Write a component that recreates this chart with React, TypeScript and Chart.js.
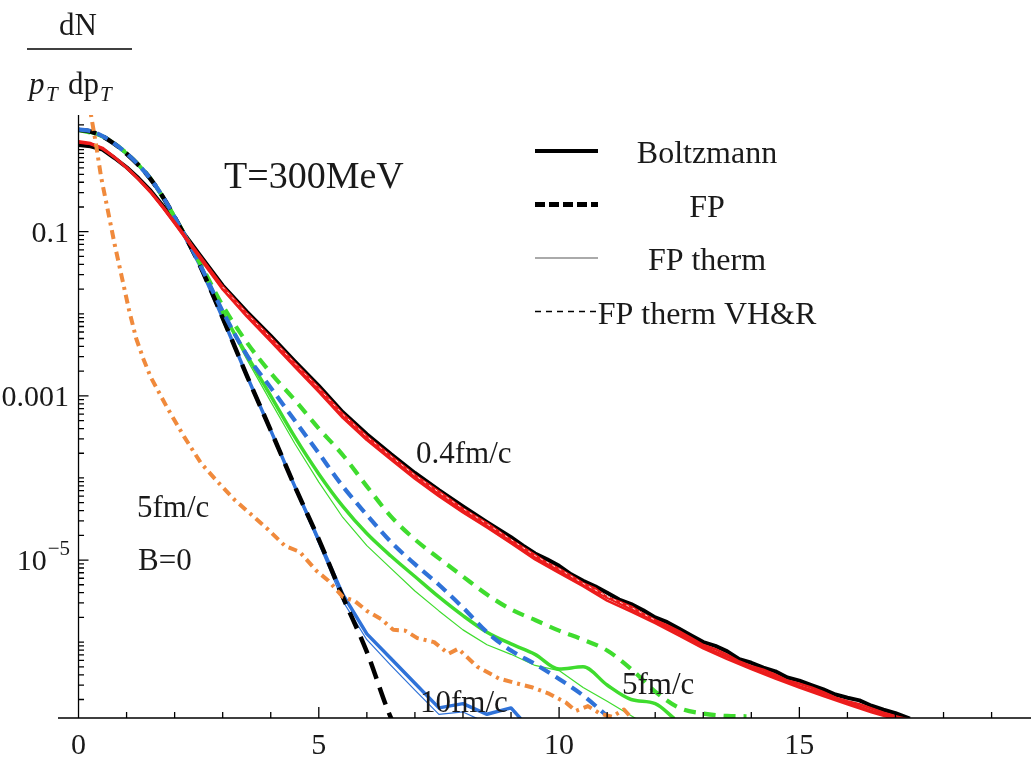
import React, { useEffect, useRef } from 'react';
import { Chart, registerables } from 'chart.js';

Chart.register(...registerables);

// ---------- axis ranges & ticks ----------
const X_MIN = -0.427;
const X_MAX = 19.82;
const Y_MIN = 1.19e-7;
const Y_MAX = 2.64;
const xTickVals = [0, 5, 10, 15];
const xTickLabels = ['0', '5', '10', '15'];
const yTickVals = [0.1, 0.001, 1e-5];
const yTickLabels = ['0.1', '0.001', '10^−5'];

// ---------- data ----------
// Boltzmann, 0.4 fm/c (black solid)
const xBoltz04 = [0, 0.25, 0.5, 0.75, 1, 1.25, 1.5, 1.75, 2, 2.5, 3, 3.5, 4, 4.5, 5, 5.5, 6, 6.5, 7, 7.5, 8, 8.5, 9, 9.25, 9.5, 9.75, 10, 10.25, 10.5, 10.75, 11, 11.25, 11.5, 11.75, 12, 12.25, 12.5, 12.75, 13, 13.25, 13.5, 13.75, 14, 14.25, 14.5, 14.75, 15, 15.25, 15.5, 15.75, 16, 16.25, 16.5, 16.75, 17, 17.3];
const yBoltz04 = [1.14, 1.10, 1.0, 0.79, 0.61, 0.447, 0.316, 0.209, 0.135, 0.0543, 0.0221, 0.0106, 5.37e-3, 2.63e-3, 1.32e-3, 6.3e-4, 3.4e-4, 1.95e-4, 1.15e-4, 7.1e-5, 4.5e-5, 2.9e-5, 1.9e-5, 1.5e-5, 1.2e-5, 1.02e-5, 8.5e-6, 6.7e-6, 5.6e-6, 4.8e-6, 4.0e-6, 3.3e-6, 2.9e-6, 2.45e-6, 2.0e-6, 1.75e-6, 1.45e-6, 1.2e-6, 1.0e-6, 9.0e-7, 7.7e-7, 6.2e-7, 5.6e-7, 4.9e-7, 4.4e-7, 3.7e-7, 3.4e-7, 3.0e-7, 2.65e-7, 2.3e-7, 2.1e-7, 1.95e-7, 1.68e-7, 1.5e-7, 1.36e-7, 1.17e-7];

// FP therm, 0.4 fm/c (red, several runs)
const xRedA = [0, 0.25, 0.5, 0.75, 1, 1.25, 1.5, 1.75, 2, 2.5, 3, 3.5, 4, 4.5, 5, 5.5, 6, 6.5, 7, 7.5, 8, 8.5, 9, 9.25, 9.5, 9.75, 10, 10.25, 10.5, 10.75, 11, 11.25, 11.5, 11.75, 12, 12.25, 12.5, 12.75, 13, 13.25, 13.5, 13.75, 14, 14.25, 14.5, 14.75, 15, 15.25, 15.5, 15.75, 16, 16.25, 16.5, 16.75, 17, 17.25, 17.5];
const yRedA = [1.26, 1.2, 1.05, 0.81, 0.61, 0.44, 0.31, 0.205, 0.132, 0.053, 0.0215, 0.0102, 5.1e-3, 2.5e-3, 1.25e-3, 6.0e-4, 3.2e-4, 1.85e-4, 1.08e-4, 6.8e-5, 4.2e-5, 2.8e-5, 1.75e-5, 1.42e-5, 1.15e-5, 9.2e-6, 7.8e-6, 6.4e-6, 5.2e-6, 4.5e-6, 3.5e-6, 3.1e-6, 2.7e-6, 2.2e-6, 1.85e-6, 1.6e-6, 1.35e-6, 1.12e-6, 9.2e-7, 8.2e-7, 7.0e-7, 5.8e-7, 5.1e-7, 4.6e-7, 4.0e-7, 3.4e-7, 3.1e-7, 2.8e-7, 2.45e-7, 2.1e-7, 1.9e-7, 1.75e-7, 1.55e-7, 1.38e-7, 1.25e-7, 1.15e-7, 1.08e-7];
const xRed = [0, 0.25, 0.5, 0.75, 1, 1.25, 1.5, 1.75, 2, 2.5, 3, 3.5, 4, 4.5, 5, 5.5, 6, 6.5, 7, 7.5, 8, 8.5, 9, 9.5, 10, 10.5, 11, 11.5, 12, 12.5, 13, 13.5, 14, 14.5, 15, 15.5, 16, 16.5, 17, 17.5];
const yRedB = [1.22, 1.17, 1.02, 0.8, 0.6, 0.435, 0.305, 0.2, 0.128, 0.051, 0.0205, 9.7e-3, 4.85e-3, 2.4e-3, 1.2e-3, 5.7e-4, 3.05e-4, 1.75e-4, 1.03e-4, 6.3e-5, 4.05e-5, 2.6e-5, 1.7e-5, 1.08e-5, 7.5e-6, 4.9e-6, 3.5e-6, 2.5e-6, 1.8e-6, 1.28e-6, 8.8e-7, 6.6e-7, 4.9e-7, 3.8e-7, 2.9e-7, 2.35e-7, 1.85e-7, 1.45e-7, 1.2e-7, 1.04e-7];
const yRedC = [1.24, 1.18, 1.03, 0.8, 0.6, 0.43, 0.3, 0.197, 0.126, 0.05, 0.0198, 9.3e-3, 4.6e-3, 2.25e-3, 1.12e-3, 5.4e-4, 2.9e-4, 1.68e-4, 9.8e-5, 6.0e-5, 3.8e-5, 2.5e-5, 1.6e-5, 1.02e-5, 7.0e-6, 4.8e-6, 3.2e-6, 2.35e-6, 1.7e-6, 1.2e-6, 8.4e-7, 6.2e-7, 4.7e-7, 3.6e-7, 2.8e-7, 2.2e-7, 1.75e-7, 1.4e-7, 1.15e-7, 1.0e-7];

// FP therm VH&R, 0.4 fm/c (thin dashed inside the red band)
const xVHR = [3, 3.5, 4, 4.5, 5, 5.5, 6, 6.5, 7, 7.5, 8, 8.5, 9, 9.5, 10, 10.5, 11, 11.5, 12];
const yVHR = [0.0212, 0.0101, 5.1e-3, 2.5e-3, 1.24e-3, 5.95e-4, 3.2e-4, 1.84e-4, 1.08e-4, 6.7e-5, 4.25e-5, 2.75e-5, 1.78e-5, 1.13e-5, 7.8e-6, 5.2e-6, 3.6e-6, 2.65e-6, 1.85e-6];

// FP (black dashed)
const xFP = [0, 0.25, 0.5, 0.75, 1, 1.25, 1.5, 1.75, 2, 2.5, 3, 3.5, 4, 4.5, 5, 5.5, 6, 6.45, 6.6];
const yFP = [1.74, 1.66, 1.45, 1.17, 0.89, 0.646, 0.437, 0.269, 0.151, 0.0417, 8.9e-3, 1.78e-3, 3.8e-4, 7.9e-5, 1.78e-5, 3.55e-6, 7.6e-7, 1.41e-7, 8.9e-8];

// FP, 10 fm/c (blue dashed)
const xFP10 = [0, 0.25, 0.5, 0.75, 1, 1.25, 1.5, 1.75, 2, 2.5, 3, 3.5, 4, 4.5, 5, 5.5, 6, 6.5, 7, 7.5, 8, 8.5, 9, 9.5, 10, 10.5, 11, 11.1];
const yFP10 = [1.76, 1.68, 1.46, 1.18, 0.9, 0.65, 0.44, 0.27, 0.151, 0.0427, 0.0107, 3.16e-3, 1.26e-3, 5.0e-4, 2.0e-4, 7.9e-5, 3.55e-5, 1.66e-5, 8.9e-6, 5.0e-6, 2.63e-6, 1.32e-6, 7.9e-7, 5.4e-7, 3.55e-7, 2.24e-7, 1.26e-7, 1.12e-7];

// FP, 5 fm/c (green dashed)
const xFP5 = [0, 0.5, 1, 1.5, 2, 2.5, 3, 3.5, 4, 4.5, 5, 5.5, 6, 6.5, 7, 7.5, 8, 8.5, 9, 9.5, 10, 10.5, 11, 11.5, 12, 12.5, 13, 13.5, 13.9];
const yFP5 = [1.74, 1.45, 0.9, 0.44, 0.151, 0.0447, 0.0126, 4.5e-3, 1.9e-3, 8.9e-4, 4.0e-4, 1.9e-4, 7.9e-5, 3.4e-5, 1.78e-5, 1.05e-5, 6.3e-6, 3.8e-6, 2.5e-6, 1.86e-6, 1.38e-6, 1.07e-6, 7.9e-7, 4.7e-7, 2.5e-7, 1.58e-7, 1.35e-7, 1.26e-7, 1.25e-7];

// Boltzmann, 5 fm/c (green thick)
const xB5 = [0, 0.5, 1, 1.5, 2, 2.5, 3, 3.5, 4, 4.5, 5, 5.5, 6, 6.5, 7, 7.5, 8, 8.5, 9, 9.5, 10, 10.5, 11, 11.5, 12, 12.4];
const yB5 = [1.74, 1.45, 0.9, 0.44, 0.151, 0.0437, 0.0105, 3.16e-3, 1.0e-3, 3.16e-4, 1.12e-4, 4.5e-5, 2.1e-5, 1.12e-5, 6.3e-6, 3.55e-6, 2.1e-6, 1.32e-6, 9.5e-7, 7.1e-7, 4.7e-7, 5.0e-7, 3.0e-7, 2.0e-7, 1.78e-7, 1.17e-7];

// FP therm, 5 fm/c (green thin)
const xT5 = [2.5, 3, 3.5, 4, 4.5, 5, 5.5, 6, 6.5, 7, 7.5, 8, 8.5, 9, 9.5, 10, 10.5, 11, 11.6];
const yT5 = [0.0427, 0.01, 2.8e-3, 8.5e-4, 2.63e-4, 8.9e-5, 3.3e-5, 1.5e-5, 7.9e-6, 4.2e-6, 2.4e-6, 1.41e-6, 9.3e-7, 7.1e-7, 5.2e-7, 4.5e-7, 2.8e-7, 1.9e-7, 1.17e-7];

// Boltzmann, 10 fm/c (blue thick)
const xB10 = [0, 0.25, 0.5, 0.75, 1, 1.25, 1.5, 1.75, 2, 2.5, 3, 3.5, 4, 4.5, 5, 5.5, 6, 6.5, 7, 7.5, 8, 8.5, 9, 9.2];
const yB10 = [1.74, 1.66, 1.45, 1.17, 0.89, 0.646, 0.437, 0.269, 0.151, 0.0417, 8.9e-3, 1.78e-3, 3.8e-4, 7.9e-5, 1.74e-5, 3.8e-6, 1.26e-6, 6.3e-7, 3.16e-7, 1.58e-7, 1.78e-7, 1.32e-7, 1.58e-7, 1.17e-7];

// FP therm, 10 fm/c (blue thin)
const xT10 = [4, 4.5, 5, 5.5, 6, 6.5, 7, 7.5, 8, 8.3];
const yT10 = [3.7e-4, 7.6e-5, 1.58e-5, 3.16e-6, 1.07e-6, 5.2e-7, 2.6e-7, 1.32e-7, 1.41e-7, 1.17e-7];

// 5 fm/c, B=0 (orange dot-dashed)
const xB0 = [0.22, 0.26, 0.36, 0.47, 0.61, 0.75, 0.9, 1.05, 1.2, 1.35, 1.5, 1.85, 2.2, 2.55, 2.9, 3.25, 3.6, 3.95, 4.3, 4.6, 4.95, 5.2, 5.5, 5.75, 6.0, 6.3, 6.55, 6.8, 7.05, 7.4, 7.7, 7.9, 8.3, 8.75, 9.1, 9.45, 9.8, 10.15, 10.35, 10.6, 10.85, 11.1, 11.35, 11.55];
const yB0 = [4.0, 2.63, 1.2, 0.462, 0.182, 0.0708, 0.0282, 0.0112, 5.0e-3, 2.82e-3, 1.7e-3, 7.1e-4, 3.16e-4, 1.51e-4, 8.9e-5, 5.4e-5, 3.55e-5, 2.34e-5, 1.48e-5, 1.26e-5, 7.4e-6, 5.6e-6, 3.55e-6, 3.16e-6, 2.4e-6, 1.9e-6, 1.41e-6, 1.38e-6, 1.12e-6, 1.0e-6, 7.2e-7, 8.3e-7, 5.0e-7, 3.6e-7, 3.16e-7, 2.8e-7, 2.34e-7, 1.82e-7, 1.45e-7, 1.66e-7, 1.35e-7, 1.23e-7, 1.51e-7, 1.12e-7];

// ---------- styles ----------
const RED = '#ec1c1c';
const GREEN = '#3fdc2e';
const BLUE = '#2f72d8';
const ORANGE = '#f08a3c';
const SERIF = '"Liberation Serif", "Times New Roman", serif';

const series = (xs: number[], ys: number[], style: any) => ({
  data: xs.map((x, i) => ({ x, y: ys[i] })),
  pointRadius: 0,
  fill: false,
  clip: 0,
  borderCapStyle: 'butt',
  borderJoinStyle: 'round',
  ...style,
});

// first dataset is drawn on top
const datasets = [
  series(xB0, yB0, { borderColor: ORANGE, borderWidth: 4, borderDash: [9, 5, 3, 5] }),
  series(xVHR, yVHR, { borderColor: 'rgba(255,225,225,0.95)', borderWidth: 1, borderDash: [3, 4] }),
  series(xRedA, yRedA, { borderColor: RED, borderWidth: 2.6 }),
  series(xRed, yRedB, { borderColor: RED, borderWidth: 2.6 }),
  series(xRed, yRedC, { borderColor: RED, borderWidth: 2.6 }),
  series(xFP10, yFP10, { borderColor: BLUE, borderWidth: 4.2, borderDash: [12, 7], cubicInterpolationMode: 'monotone' }),
  series(xFP, yFP, { borderColor: '#000', borderWidth: 4.5, borderDash: [18, 9], cubicInterpolationMode: 'monotone' }),
  series(xFP5, yFP5, { borderColor: GREEN, borderWidth: 4.2, borderDash: [12, 8], cubicInterpolationMode: 'monotone' }),
  series(xT5, yT5, { borderColor: GREEN, borderWidth: 1.2 }),
  series(xT10, yT10, { borderColor: BLUE, borderWidth: 1.2 }),
  series(xB5, yB5, { borderColor: GREEN, borderWidth: 3.5, cubicInterpolationMode: 'monotone' }),
  series(xB10, yB10, { borderColor: BLUE, borderWidth: 3.5 }),
  series(xBoltz04, yBoltz04, { borderColor: '#000', borderWidth: 4 }),
];

const legendItems = [
  { label: 'Boltzmann', color: '#000', width: 4, dash: [] as number[] },
  { label: 'FP', color: '#000', width: 5, dash: [10, 4] },
  { label: 'FP therm', color: '#aaaaaa', width: 2, dash: [] as number[] },
  { label: 'FP therm VH&R', color: '#000', width: 1.5, dash: [6, 5] },
];

const annotations = [
  { text: 'T=300MeV', x: 224, y: 188, size: 38 },
  { text: '0.4fm/c', x: 416, y: 463, size: 31 },
  { text: '5fm/c', x: 137, y: 517, size: 31 },
  { text: 'B=0', x: 138, y: 570, size: 31 },
  { text: '5fm/c', x: 622, y: 694, size: 31 },
  { text: '10fm/c', x: 420, y: 712, size: 31 },
];

const overlay = {
  id: 'mathematicaFrame',
  afterDatasetsDraw(chart: any) {
    const { ctx, chartArea, scales } = chart;
    const xs = scales.x;
    const ys = scales.y;
    const x0 = xs.getPixelForValue(0);
    const yb = chartArea.bottom;
    ctx.save();
    ctx.setLineDash([]);
    ctx.strokeStyle = '#000';
    ctx.lineWidth = 1.3;
    ctx.beginPath();
    ctx.moveTo(chartArea.left, yb);
    ctx.lineTo(chartArea.right, yb);
    ctx.moveTo(x0, chartArea.top);
    ctx.lineTo(x0, yb);
    for (let v = 1; v <= Math.floor(X_MAX); v++) {
      const px = xs.getPixelForValue(v);
      const len = xTickVals.includes(v) ? 11 : 6;
      ctx.moveTo(px, yb);
      ctx.lineTo(px, yb - len);
    }
    const majorExp = yTickVals.map((v) => Math.round(Math.log10(v)));
    for (let k = -8; k <= 1; k++) {
      for (let m = 1; m <= 9; m++) {
        const v = m * Math.pow(10, k);
        if (v < Y_MIN || v > Y_MAX) continue;
        const py = ys.getPixelForValue(v);
        const len = m === 1 && majorExp.includes(k) ? 10 : 5.5;
        ctx.moveTo(x0, py);
        ctx.lineTo(x0 + len, py);
      }
    }
    ctx.stroke();

    ctx.fillStyle = '#1a1a1a';
    ctx.textBaseline = 'alphabetic';
    // x tick labels
    ctx.font = `30px ${SERIF}`;
    ctx.textAlign = 'center';
    xTickVals.forEach((v, i) => {
      ctx.fillText(xTickLabels[i], xs.getPixelForValue(v), 754);
    });
    // y tick labels
    yTickVals.forEach((v, i) => {
      const py = ys.getPixelForValue(v);
      const lab = yTickLabels[i];
      ctx.textAlign = 'right';
      if (lab.includes('^')) {
        const [base, exp] = lab.split('^');
        ctx.font = `21px ${SERIF}`;
        ctx.fillText(exp, 70, py - 5);
        const ew = ctx.measureText(exp).width;
        ctx.font = `30px ${SERIF}`;
        ctx.fillText(base, 70 - ew - 1, py + 10);
      } else {
        ctx.font = `30px ${SERIF}`;
        ctx.fillText(lab, 69, py + 10);
      }
    });

    // y axis title: dN / (p_T dp_T)
    ctx.textAlign = 'center';
    ctx.font = `31px ${SERIF}`;
    ctx.fillText('dN', 78, 35);
    ctx.beginPath();
    ctx.lineWidth = 1.4;
    ctx.moveTo(27, 49);
    ctx.lineTo(132, 49);
    ctx.stroke();
    ctx.textAlign = 'left';
    ctx.font = `italic 31px ${SERIF}`;
    ctx.fillText('p', 29, 94);
    ctx.font = `italic 21px ${SERIF}`;
    ctx.fillText('T', 46, 101);
    ctx.font = `31px ${SERIF}`;
    ctx.fillText('dp', 68, 94);
    ctx.font = `italic 21px ${SERIF}`;
    ctx.fillText('T', 100, 101);

    // legend
    legendItems.forEach((it, i) => {
      const y = 151 + i * 53.5;
      ctx.beginPath();
      ctx.strokeStyle = it.color;
      ctx.lineWidth = it.width;
      ctx.setLineDash(it.dash);
      ctx.moveTo(535, y);
      ctx.lineTo(598, y);
      ctx.stroke();
      ctx.setLineDash([]);
      ctx.font = `32px ${SERIF}`;
      ctx.textAlign = 'center';
      ctx.fillText(it.label, 707, y + 12);
    });

    // annotations
    ctx.textAlign = 'left';
    annotations.forEach((a) => {
      ctx.font = `${a.size}px ${SERIF}`;
      ctx.fillText(a.text, a.x, a.y);
    });
    ctx.restore();
  },
};

export default function App() {
  const ref = useRef<HTMLCanvasElement>(null);
  useEffect(() => {
    const chart = new Chart(ref.current as HTMLCanvasElement, {
      type: 'line',
      data: { datasets: datasets as any },
      options: {
        responsive: false,
        animation: false,
        devicePixelRatio: 1,
        layout: { padding: { left: 58, right: 0, top: 115, bottom: 42 } },
        plugins: { legend: { display: false }, tooltip: { enabled: false } },
        scales: {
          x: { type: 'linear', min: X_MIN, max: X_MAX, display: false },
          y: { type: 'logarithmic', min: Y_MIN, max: Y_MAX, display: false },
        },
      },
      plugins: [overlay],
    });
    return () => chart.destroy();
  }, []);
  return (
    <div style={{ position: 'fixed', left: 0, top: 0, width: 1031, height: 760, background: '#fff' }}>
      <canvas ref={ref} width={1031} height={760} style={{ display: 'block' }} />
    </div>
  );
}
